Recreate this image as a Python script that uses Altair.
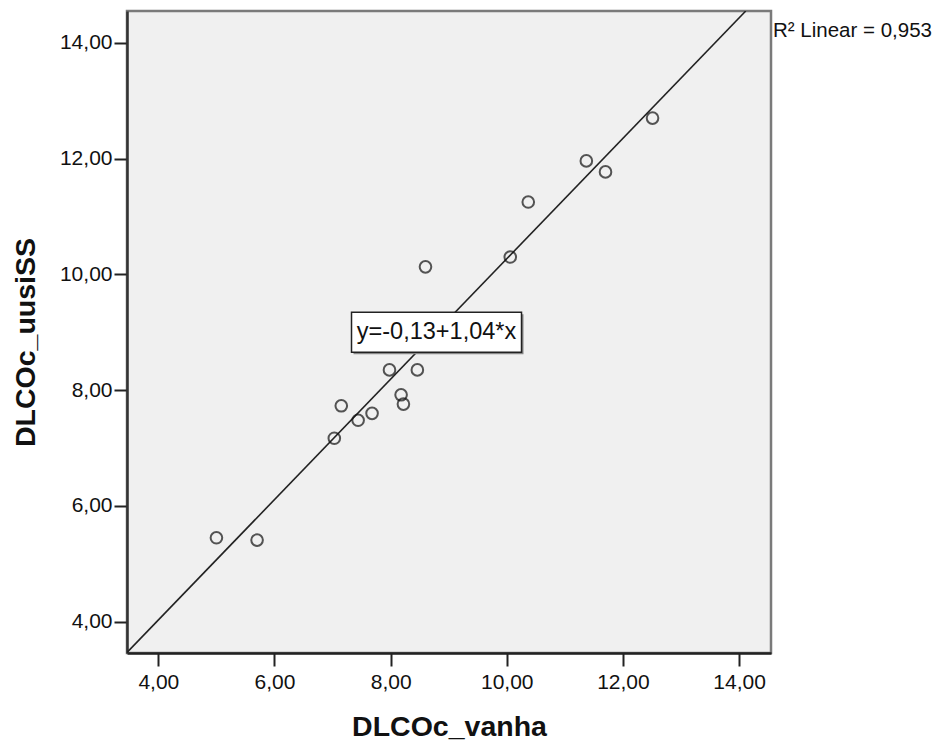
import altair as alt
import pandas as pd

# Data
vanha = [5.00, 5.70, 7.03, 7.15, 7.44, 7.68, 7.98, 8.18, 8.22, 8.46, 8.60, 10.06, 10.37, 11.37, 11.70, 12.51]
uusiSS = [5.45, 5.41, 7.17, 7.73, 7.48, 7.60, 8.35, 7.92, 7.76, 8.35, 10.13, 10.30, 11.25, 11.96, 11.77, 12.70]
intercept = -0.13
slope = 1.04
r2_text = "R² Linear = 0,953"
eq_text = "y=-0,13+1,04*x"
eq_pos = [8.79, 9.0]
tick_values = [4, 6, 8, 10, 12, 14]
domain = [3.46, 14.55]

pts = pd.DataFrame({"x": vanha, "y": uusiSS})
line_df = pd.DataFrame({
    "x": [domain[0], (domain[1] - intercept) / slope],
})
line_df["y"] = intercept + slope * line_df["x"]
eq_df = pd.DataFrame({"x": [eq_pos[0]], "y": [eq_pos[1]], "t": [eq_text]})
r2_df = pd.DataFrame({"x": [domain[1]], "y": [domain[1]], "t": [r2_text]})

label_expr = "replace(format(datum.value, '.2f'), '.', ',')"
FONT = "Liberation Sans"

xs = alt.Scale(domain=domain, nice=False, zero=False)
ys = alt.Scale(domain=domain, nice=False, zero=False)

x_axis = alt.Axis(values=tick_values, labelExpr=label_expr, grid=False,
                  title="DLCOc_vanha", tickSize=13, tickWidth=2, tickColor="#222",
                  domainColor="#222", domainWidth=2.5, labelFontSize=21,
                  labelFont=FONT, labelColor="#111", labelPadding=5,
                  titleFont=FONT, titleFontSize=28.5, titleFontWeight="bold",
                  titleColor="#111", titlePadding=20)
y_axis = alt.Axis(values=tick_values, labelExpr=label_expr, grid=False,
                  title="DLCOc_uusiSS", tickSize=13, tickWidth=2, tickColor="#222",
                  domainColor="#333", domainWidth=2.5, labelFontSize=21,
                  labelFont=FONT, labelColor="#111", labelPadding=2,
                  titleFont=FONT, titleFontSize=28.5, titleFontWeight="bold",
                  titleColor="#111", titlePadding=19, titleY=331)

points = alt.Chart(pts).mark_point(shape="circle", filled=False, size=135,
                                   stroke="#111", strokeWidth=2).encode(
    x=alt.X("x:Q", scale=xs, axis=x_axis),
    y=alt.Y("y:Q", scale=ys, axis=y_axis),
)

fit = alt.Chart(line_df).mark_line(color="#222", strokeWidth=1.6, clip=True).encode(
    x=alt.X("x:Q", scale=xs), y=alt.Y("y:Q", scale=ys)
)

shadow = alt.Chart(eq_df).mark_rect(width=170, height=40, color="#888888",
                                    xOffset=2, yOffset=2).encode(
    x=alt.X("x:Q", scale=xs), y=alt.Y("y:Q", scale=ys)
)
box = alt.Chart(eq_df).mark_rect(width=170, height=40, fill="white",
                                 stroke="#222", strokeWidth=1.5).encode(
    x=alt.X("x:Q", scale=xs), y=alt.Y("y:Q", scale=ys)
)
eq_label = alt.Chart(eq_df).mark_text(font=FONT, fontSize=23.5, color="#111",
                                      align="center", baseline="middle").encode(
    x=alt.X("x:Q", scale=xs), y=alt.Y("y:Q", scale=ys), text="t:N"
)
r2_label = alt.Chart(r2_df).mark_text(font=FONT, fontSize=20.5, color="#111",
                                      align="left", baseline="alphabetic",
                                      dx=2, dy=26).encode(
    x=alt.X("x:Q", scale=xs), y=alt.Y("y:Q", scale=ys), text="t:N"
)

chart = alt.layer(fit, points, shadow, box, eq_label, r2_label).properties(
    width=644, height=642,
    autosize=alt.AutoSizeParams(type="none"),
    padding={"left": 119, "top": 3, "right": 164, "bottom": 94},
    background="white",
).configure_view(fill="#F0F0F0", stroke="#7a7a7a", strokeWidth=2.5)

chart.save("out.html", embed_options={"renderer": "svg", "actions": False})
